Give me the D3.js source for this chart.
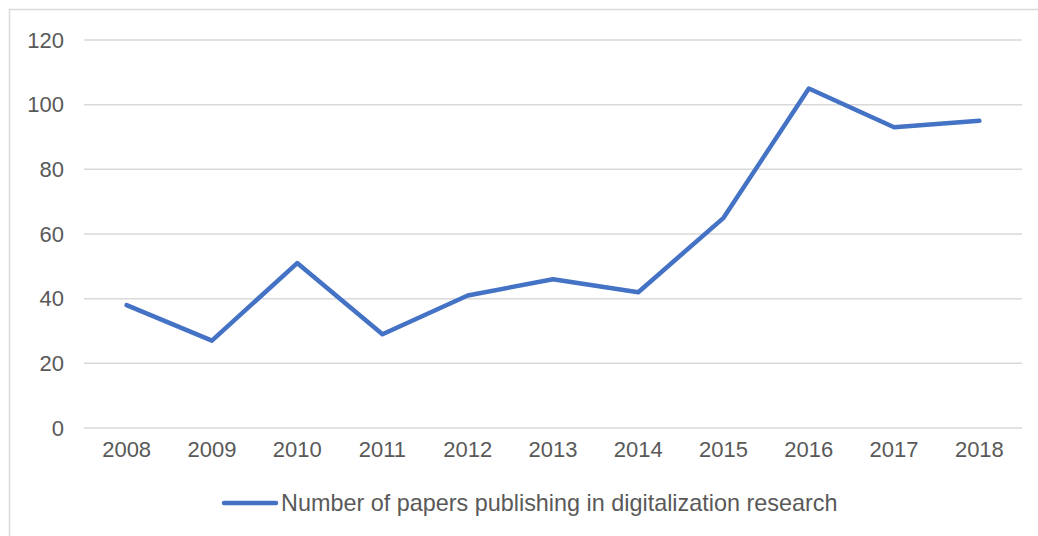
<!DOCTYPE html>
<html>
<head>
<meta charset="utf-8">
<script src="https://cdn.jsdelivr.net/npm/d3@7"></script>
<style>
  html, body { margin: 0; padding: 0; background: #fff; }
  svg { display: block; }
  text { font-family: "Liberation Sans", Arial, sans-serif; fill: #595959; }
</style>
</head>
<body>
<svg id="chart" width="1038" height="536"></svg>
<script>
// Annual paper counts
const years = ["2008", "2009", "2010", "2011", "2012", "2013", "2014", "2015", "2016", "2017", "2018"];
const papers = [38, 27, 51, 29, 41, 46, 42, 65, 105, 93, 95];
const yTicks = [0, 20, 40, 60, 80, 100, 120];
const seriesName = "Number of papers publishing in digitalization research";

const W = 1038, H = 536;
const margin = { left: 84, right: 16, top: 40, bottom: 108 };
const svg = d3.select("#chart");

// Chart frame
svg.append("rect")
  .attr("x", 9.5).attr("y", 9.5)
  .attr("width", W + 20).attr("height", H + 20)
  .attr("fill", "none").attr("stroke", "#d9d9d9").attr("stroke-width", 1.5);

const x = d3.scaleBand().domain(years).range([margin.left, W - margin.right]);
const y = d3.scaleLinear().domain([0, 120]).range([H - margin.bottom, margin.top]);

// Horizontal gridlines
svg.append("g")
  .selectAll("line")
  .data(yTicks)
  .join("line")
  .attr("x1", margin.left).attr("x2", W - margin.right)
  .attr("y1", d => y(d)).attr("y2", d => y(d))
  .attr("stroke", "#d9d9d9").attr("stroke-width", 1.5);

// Y axis labels
const yAxis = d3.axisLeft(y).tickValues(yTicks).tickSize(0).tickPadding(20);
const gy = svg.append("g").attr("transform", `translate(${margin.left},0)`).call(yAxis);
gy.select(".domain").remove();
gy.selectAll("text").attr("font-size", 22).style("font-family", "inherit").attr("fill", "#595959");

// X axis labels
const xAxis = d3.axisBottom(x).tickSize(0).tickPadding(13);
const gx = svg.append("g").attr("transform", `translate(0,${y(0)})`).call(xAxis);
gx.select(".domain").remove();
gx.selectAll("text").attr("font-size", 22).style("font-family", "inherit").attr("fill", "#595959");

// Series line
const line = d3.line()
  .x((d, i) => x(years[i]) + x.bandwidth() / 2)
  .y(d => y(d));
svg.append("path")
  .datum(papers)
  .attr("d", line)
  .attr("fill", "none")
  .attr("stroke", "#4472c4")
  .attr("stroke-width", 4.5)
  .attr("stroke-linejoin", "round")
  .attr("stroke-linecap", "round");

// Legend
const lg = svg.append("g").attr("transform", "translate(224,503)");
lg.append("line")
  .attr("x1", 0).attr("x2", 52).attr("y1", 0).attr("y2", 0)
  .attr("stroke", "#4472c4").attr("stroke-width", 4.5).attr("stroke-linecap", "round");
lg.append("text")
  .attr("x", 57).attr("y", 0).attr("dy", "0.35em")
  .attr("font-size", 23.4)
  .text(seriesName);
</script>
</body>
</html>
